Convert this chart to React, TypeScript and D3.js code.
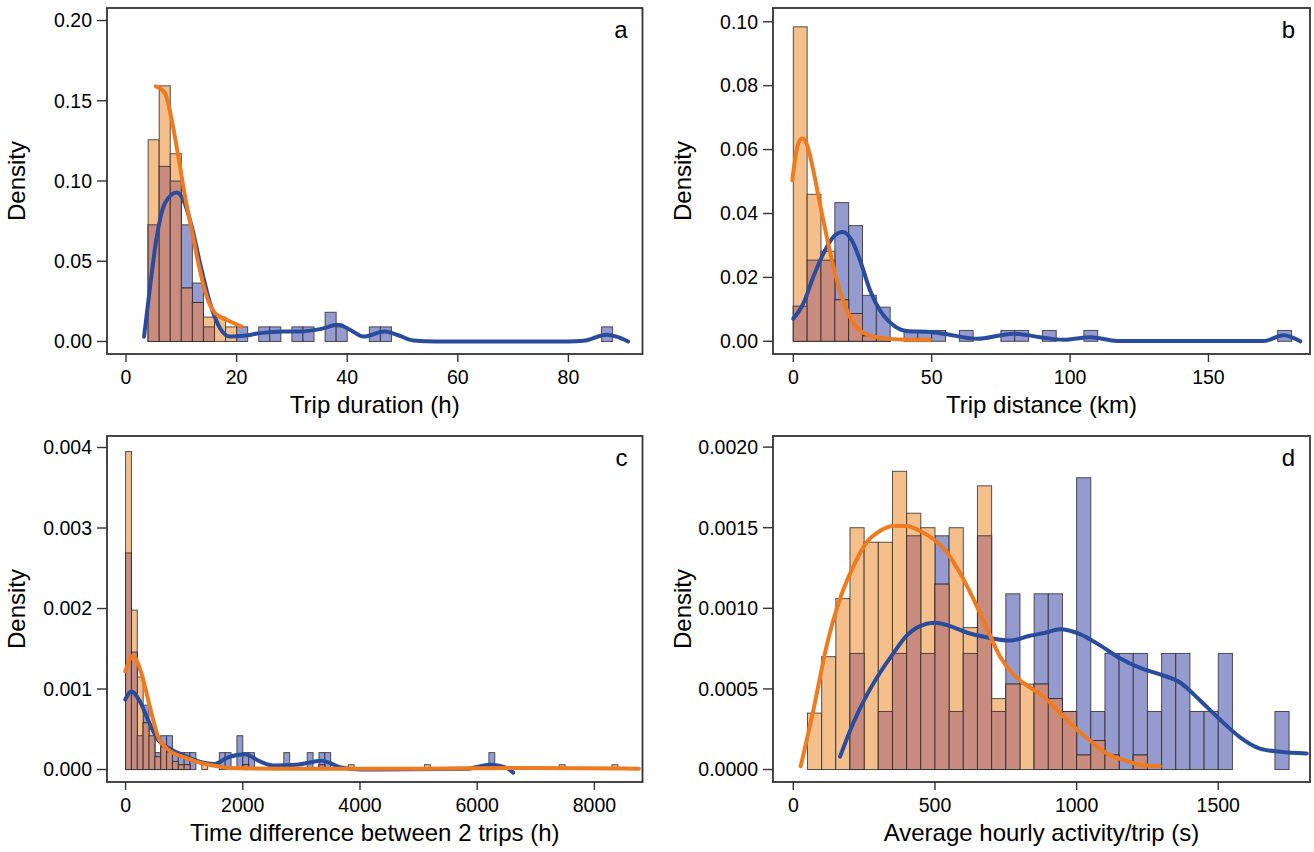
import * as d3 from "d3";

// histogram bins as [bin start, density]
const aBinWidth = 2;
const aOrange = [[4, 0.1257], [6, 0.1593], [8, 0.117], [10, 0.0333], [12, 0.0243], [14, 0.0152], [16, 0.0152], [18, 0.0091]];
const aBlue = [[4, 0.0727], [6, 0.1091], [8, 0.1], [10, 0.0727], [12, 0.0364], [14, 0.0091], [20, 0.0091], [24, 0.0091], [26, 0.0091], [30, 0.0091], [32, 0.0091], [36, 0.0182], [38, 0.0091], [44, 0.0091], [46, 0.0091], [86, 0.0091]];

const bBinWidth = 5;
const bOrange = [[0, 0.0984], [5, 0.046], [10, 0.0282], [15, 0.013], [20, 0.0087], [25, 0.0017], [30, 0.0008]];
const bBlue = [[0, 0.011], [5, 0.0254], [10, 0.0254], [15, 0.0434], [20, 0.0362], [25, 0.0144], [30, 0.0107], [40, 0.0034], [45, 0.0034], [50, 0.0034], [60, 0.0034], [75, 0.0034], [80, 0.0034], [90, 0.0034], [105, 0.0034], [175, 0.0034]];

const cBinWidth = 100;
const cOrange = [[0, 0.00395], [100, 0.00198], [200, 0.00115], [300, 0.00058], [400, 0.0005], [500, 0.00016], [600, 0.00028], [700, 0.00022], [800, 0.0001], [900, 0.00006], [1000, 0.00006], [1300, 0.00006], [2000, 0.00006], [3300, 0.00006], [3800, 0.00006], [5100, 0.00006], [7400, 0.00006], [8300, 0.00006]];
const cBlue = [[0, 0.00269], [100, 0.00146], [200, 0.00042], [300, 0.0008], [400, 0.00042], [500, 0.00021], [600, 0.00042], [700, 0.00042], [800, 0.00021], [900, 0.00021], [1000, 0.00021], [1100, 0.00021], [1600, 0.00021], [1700, 0.00021], [1900, 0.00042], [2000, 0.00021], [2100, 0.00021], [2700, 0.00021], [3100, 0.00021], [3300, 0.00021], [3400, 0.00021], [6200, 0.00021]];

const dBinWidth = 50;
const dOrange = [[50, 0.00035], [100, 0.0007], [150, 0.00106], [200, 0.0015], [250, 0.00141], [300, 0.00141], [350, 0.00185], [400, 0.00159], [450, 0.0015], [500, 0.00115], [550, 0.0015], [600, 0.00088], [650, 0.00176], [700, 0.00044], [750, 0.00053], [800, 0.00053], [850, 0.00053], [900, 0.00044], [950, 0.00036], [1000, 0.00009], [1050, 0.00018], [1100, 0.00009], [1200, 0.00009]];
const dBlue = [[200, 0.00072], [300, 0.00036], [350, 0.00072], [400, 0.00145], [450, 0.00072], [500, 0.00145], [550, 0.00036], [600, 0.00072], [650, 0.00145], [700, 0.00036], [750, 0.00109], [850, 0.00109], [900, 0.00109], [950, 0.00036], [1000, 0.00181], [1050, 0.00036], [1100, 0.00072], [1150, 0.00072], [1200, 0.00072], [1250, 0.00036], [1300, 0.00072], [1350, 0.00072], [1400, 0.00036], [1450, 0.00036], [1500, 0.00072], [1700, 0.00036]];

// density curves as [x, density]
const aOrangeCurve = [[5.4, 0.159], [7.05, 0.1547], [8.26, 0.1381], [9.46, 0.1153], [10.67, 0.0903], [11.88, 0.0696], [13.08, 0.0488], [14.6, 0.028], [16.1, 0.0177], [18.2, 0.0135], [20.9, 0.0093]];
const aBlueCurve = [[3.26, 0.003], [4.34, 0.034], [5.55, 0.065], [7.05, 0.0862], [9.17, 0.0928], [10.36, 0.0883], [11.88, 0.0716], [13.38, 0.0488], [15.19, 0.0239], [17.0, 0.0083], [18.8, 0.0031], [21.2, 0.0035], [24.2, 0.0052], [28.5, 0.0062], [31.3, 0.0062], [35.1, 0.0077], [38.4, 0.0104], [40.5, 0.0073], [42.9, 0.0031], [46.8, 0.0062], [49.0, 0.0042], [52.0, 0.0006], [56, 0], [80, 0], [82.7, 0.0004], [86.9, 0.0042], [88.7, 0.003], [90.8, 0]];

const bOrangeCurve = [[-0.36, 0.0504], [0.6, 0.0567], [1.8, 0.0619], [3.3, 0.0635], [4.8, 0.0619], [7.2, 0.0536], [9.6, 0.0431], [12.1, 0.0327], [14.5, 0.0233], [17.5, 0.0139], [20.5, 0.0076], [24.1, 0.0034], [30.1, 0.0013], [38.6, 0.0006], [49.4, 0.0005]];
const bBlueCurve = [[0, 0.0071], [3.6, 0.0118], [7.2, 0.0201], [10.9, 0.0275], [14.5, 0.0327], [17.9, 0.0342], [21.1, 0.0316], [24.1, 0.0254], [27.7, 0.016], [31.3, 0.0097], [36.2, 0.005], [41, 0.0032], [49.4, 0.0029], [54.2, 0.0024], [66.3, 0.0008], [79.5, 0.0024], [89.2, 0.0013], [97.6, 0.0005], [107.3, 0.0013], [117, 0.0001], [170, 0.0001], [177.1, 0.0019], [183.2, 0]];

const cOrangeCurve = [[-5, 0.00122], [126, 0.00141], [268, 0.0012], [411, 0.00079], [553, 0.00041], [724, 0.00025], [1008, 0.00015], [1292, 0.00008], [1577, 0.00004], [1747, 0.00002], [3000, 0.00001], [5000, 0.00001], [7000, 0.00002], [8760, 0.00001]];
const cBlueCurve = [[-5, 0.00087], [97, 0.00097], [241, 0.00085], [382, 0.00062], [553, 0.00037], [780, 0.00025], [1008, 0.00017], [1292, 0.00009], [1520, 0.00007], [1747, 0.00015], [2037, 0.00019], [2293, 0.0001], [2520, 0.00005], [2920, 0.00006], [3346, 0.00011], [3659, 0.00003], [4000, 0], [5821, 0.00001], [6218, 0.00006], [6503, 0.00002], [6616, -0.00004]];

const dOrangeCurve = [[26, 0.00002], [71, 0.00037], [118, 0.00077], [165, 0.00106], [212, 0.00126], [259, 0.00141], [306, 0.00148], [353, 0.00151], [400, 0.00151], [447, 0.00148], [494, 0.00143], [541, 0.00135], [588, 0.00122], [635, 0.00106], [682, 0.00088], [730, 0.0007], [777, 0.00059], [835, 0.00051], [871, 0.00047], [953, 0.00033], [1000, 0.00025], [1047, 0.00018], [1106, 0.0001], [1165, 0.00006], [1224, 0.00003], [1294, 0.00002]];
const dBlueCurve = [[165, 0.00008], [212, 0.00029], [259, 0.00046], [306, 0.0006], [353, 0.00072], [400, 0.00083], [447, 0.00089], [500, 0.00091], [553, 0.00089], [612, 0.00085], [682, 0.00082], [765, 0.0008], [835, 0.00083], [893, 0.00085], [941, 0.00087], [1012, 0.00084], [1083, 0.00077], [1153, 0.00069], [1224, 0.00063], [1294, 0.00059], [1365, 0.00054], [1435, 0.00043], [1506, 0.00031], [1577, 0.0002], [1647, 0.00013], [1718, 0.00011], [1812, 0.0001]];

const aXTicks = [0, 20, 40, 60, 80];
const bXTicks = [0, 50, 100, 150];
const cXTicks = [0, 2000, 4000, 6000, 8000];
const dXTicks = [0, 500, 1000, 1500];
const aYTicks = [0, 0.05, 0.1, 0.15, 0.2];
const bYTicks = [0, 0.02, 0.04, 0.06, 0.08, 0.1];
const cYTicks = [0, 0.001, 0.002, 0.003, 0.004];
const dYTicks = [0, 0.0005, 0.001, 0.0015, 0.002];

const panels = [
  { letter: "a", box: [107, 642.5, 8, 354], xDom: [-3.44, 93.4], yDom: [-0.0078, 0.2078], xTicks: aXTicks, yTicks: aYTicks, fmt: ".2f", xLabel: "Trip duration (h)", bw: aBinWidth, orange: aOrange, blue: aBlue, oc: aOrangeCurve, bc: aBlueCurve, titleX: 17 },
  { letter: "b", box: [773, 1310, 8, 354], xDom: [-7.34, 186.7], yDom: [-0.00397, 0.1043], xTicks: bXTicks, yTicks: bYTicks, fmt: ".2f", xLabel: "Trip distance (km)", bw: bBinWidth, orange: bOrange, blue: bBlue, oc: bOrangeCurve, bc: bBlueCurve, titleX: 683 },
  { letter: "c", box: [107, 642.5, 436, 782], xDom: [-317, 8821], yDom: [-0.000155, 0.004143], xTicks: cXTicks, yTicks: cYTicks, fmt: ".3f", xLabel: "Time difference between 2 trips (h)", bw: cBinWidth, orange: cOrange, blue: cBlue, oc: cOrangeCurve, bc: cBlueCurve, titleX: 17 },
  { letter: "d", box: [773, 1310, 436, 782], xDom: [-71.7, 1823.8], yDom: [-0.0000775, 0.002069], xTicks: dXTicks, yTicks: dYTicks, fmt: ".4f", xLabel: "Average hourly activity/trip (s)", bw: dBinWidth, orange: dOrange, blue: dBlue, oc: dOrangeCurve, bc: dBlueCurve, titleX: 683 },
];

const ORANGE_FILL = "#f5bf8c";
const BLUE_FILL = "#959bcf";
const BOTH_FILL = "#c98b7d";
const ORANGE_LINE = "#ef7a1f";
const BLUE_LINE = "#2a4c9e";
const FONT = "'Liberation Sans', Arial, sans-serif";

function Panel({ p }) {
  const [x0, x1, y0, y1] = p.box;
  const x = d3.scaleLinear().domain(p.xDom).range([x0, x1]);
  const y = d3.scaleLinear().domain(p.yDom).range([y1, y0]);
  const fmt = d3.format(p.fmt);
  const line = d3.line().x((d) => x(d[0])).y((d) => y(d[1])).curve(d3.curveMonotoneX);

  const blueMap = new Map(p.blue.map((d) => [d[0], d[1]]));
  const overlap = p.orange
    .filter((d) => blueMap.has(d[0]))
    .map((d) => [d[0], Math.min(d[1], blueMap.get(d[0]))]);

  const bars = (data, fill) =>
    data.map((d, i) => (
      <rect
        key={i}
        x={x(d[0])}
        y={y(d[1])}
        width={x(d[0] + p.bw) - x(d[0])}
        height={y(0) - y(d[1])}
        fill={fill}
        stroke="#2a2a2a"
        strokeOpacity={0.8}
        strokeWidth={1}
      />
    ));

  return (
    <g>
      {bars(p.blue, BLUE_FILL)}
      {bars(p.orange, ORANGE_FILL)}
      {bars(overlap, BOTH_FILL)}
      <path d={line(p.bc)} fill="none" stroke={BLUE_LINE} strokeWidth={4} strokeLinecap="round" />
      <path d={line(p.oc)} fill="none" stroke={ORANGE_LINE} strokeWidth={4} strokeLinecap="round" />
      <rect x={x0} y={y0} width={x1 - x0} height={y1 - y0} fill="none" stroke="#333" strokeWidth={1.8} />
      {p.yTicks.map((t) => (
        <g key={t}>
          <line x1={x0 - 10} x2={x0} y1={y(t)} y2={y(t)} stroke="#333" strokeWidth={1.4} />
          <text x={x0 - 15} y={y(t)} dy="0.35em" textAnchor="end" fontSize={19.5}>
            {fmt(t)}
          </text>
        </g>
      ))}
      {p.xTicks.map((t) => (
        <g key={t}>
          <line x1={x(t)} x2={x(t)} y1={y1} y2={y1 + 8} stroke="#333" strokeWidth={1.4} />
          <text x={x(t)} y={y1 + 23} dy="0.35em" textAnchor="middle" fontSize={19.5}>
            {t}
          </text>
        </g>
      ))}
      <text x={(x0 + x1) / 2} y={y1 + 51} dy="0.35em" textAnchor="middle" fontSize={24}>
        {p.xLabel}
      </text>
      <text
        transform={`translate(${p.titleX},${(y0 + y1) / 2}) rotate(-90)`}
        dy="0.35em"
        textAnchor="middle"
        fontSize={24}
      >
        Density
      </text>
      <text x={x1 - 15} y={y0 + 22} dy="0.35em" textAnchor="end" fontSize={24}>
        {p.letter}
      </text>
    </g>
  );
}

export default function App() {
  return (
    <svg
      width={1314}
      height={852}
      style={{ position: "absolute", left: 0, top: 0, background: "#fff", fontFamily: FONT }}
    >
      <rect width={1314} height={852} fill="#fff" />
      {panels.map((p) => (
        <Panel key={p.letter} p={p} />
      ))}
    </svg>
  );
}
